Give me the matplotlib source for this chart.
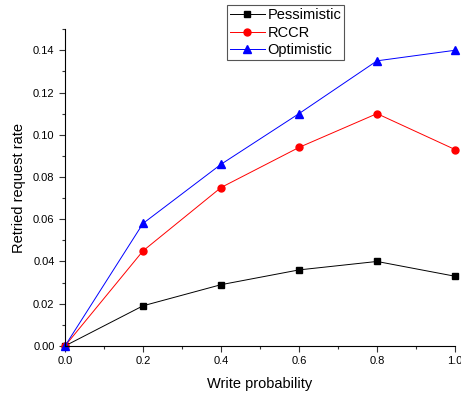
import matplotlib
matplotlib.use("Agg")
import matplotlib.pyplot as plt
from matplotlib.ticker import MultipleLocator

plt.rcParams['font.family'] = ['Liberation Sans', 'DejaVu Sans']

write_prob = [0.0, 0.2, 0.4, 0.6, 0.8, 1.0]
pessimistic = [0.0, 0.019, 0.029, 0.036, 0.040, 0.033]
rccr = [0.0, 0.045, 0.075, 0.094, 0.110, 0.093]
optimistic = [0.0, 0.058, 0.086, 0.110, 0.135, 0.140]

fig = plt.figure(figsize=(4.61, 3.94), dpi=100)
ax = fig.add_axes([0.141, 0.122, 0.846, 0.804])

ax.plot(write_prob, pessimistic, '-s', color='black', lw=0.7, ms=4.5, label='Pessimistic', clip_on=False)
ax.plot(write_prob, rccr, '-o', color='red', lw=0.7, ms=5, label='RCCR', clip_on=False)
ax.plot(write_prob, optimistic, '-^', color='blue', lw=0.7, ms=5.5, label='Optimistic', clip_on=False)

ax.set_xlim(0, 1.0)
ax.set_ylim(0, 0.15)
ax.xaxis.set_major_locator(MultipleLocator(0.2))
ax.xaxis.set_minor_locator(MultipleLocator(0.1))
ax.yaxis.set_major_locator(MultipleLocator(0.02))
ax.yaxis.set_minor_locator(MultipleLocator(0.01))
ax.xaxis.set_major_formatter(plt.FormatStrFormatter('%.1f'))
ax.yaxis.set_major_formatter(plt.FormatStrFormatter('%.2f'))
ax.spines['top'].set_visible(False)
ax.spines['right'].set_visible(False)
ax.tick_params(labelsize=8, length=4, width=0.8, color='#333333')
ax.tick_params(which='minor', length=2.5, width=0.8, color='#333333')
ax.set_xlabel('Write probability', fontsize=10.5, labelpad=8)
ax.set_ylabel('Retried request rate', fontsize=10.5, labelpad=5)

leg = ax.legend(loc='upper left', bbox_to_anchor=(0.415, 1.076), fontsize=10.5,
                frameon=True, fancybox=False, edgecolor='#555555', framealpha=1,
                handlelength=2.4, borderpad=0.2, labelspacing=0.25, handletextpad=0.2,
                borderaxespad=0)
leg.get_frame().set_linewidth(0.8)

fig.savefig('out.png', dpi=100)
